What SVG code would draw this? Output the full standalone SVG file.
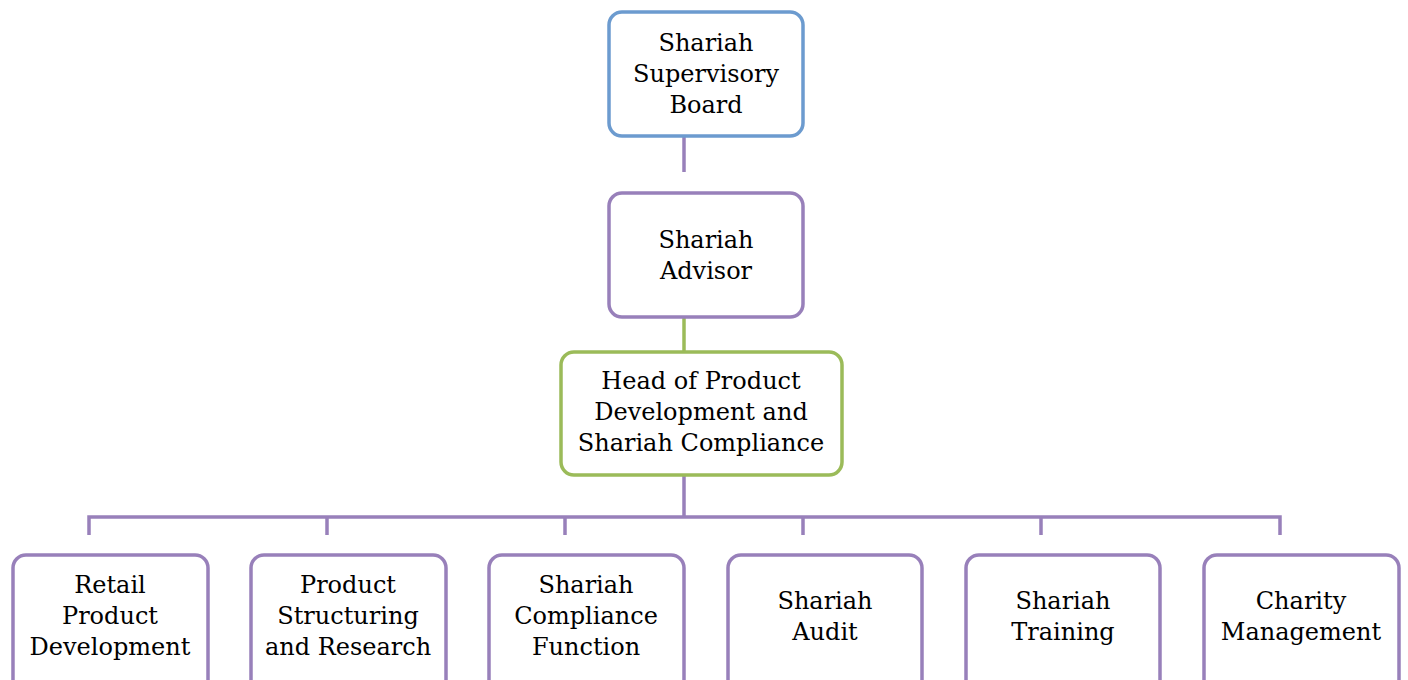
<svg xmlns="http://www.w3.org/2000/svg" width="1408" height="680" viewBox="0 0 1408 680">
<style>
.box{fill:#fff;stroke-width:3.5}
.blue{stroke:#6C9BCF}
.purple{stroke:#9880BA}
.green{stroke:#9BBB59}
.conn{fill:none;stroke-width:3.5}
text{font-family:"DejaVu Serif","Liberation Serif",serif;font-size:24px;fill:#000;text-anchor:middle}
</style>
<rect width="1408" height="680" fill="#fff"/>
<g id="connectors">
<line class="conn purple" x1="684" y1="136" x2="684" y2="172"/>
<line class="conn green" x1="684" y1="317" x2="684" y2="352"/>
<path class="conn purple" d="M684 475V517M89 535V517H1280V535M327 517V535M565 517V535M803 517V535M1041 517V535"/>
</g>
<g id="n-ssb">
<rect class="box blue" x="609" y="12" width="194" height="124" rx="13"/>
<text x="706" y="51">Shariah</text><text x="706" y="82">Supervisory</text><text x="706" y="113">Board</text>
</g>
<g id="n-advisor">
<rect class="box purple" x="609" y="193" width="194" height="124" rx="13"/>
<text x="706" y="248">Shariah</text><text x="706" y="279">Advisor</text>
</g>
<g id="n-head">
<rect class="box green" x="561" y="352" width="281" height="123" rx="13"/>
<text x="701" y="389">Head of Product</text><text x="701" y="420">Development and</text><text x="701" y="451">Shariah Compliance</text>
</g>
<g id="n-retail">
<rect class="box purple" x="13" y="555" width="195" height="140" rx="13"/>
<text x="110" y="593">Retail</text><text x="110" y="624">Product</text><text x="110" y="655">Development</text>
</g>
<g id="n-structuring">
<rect class="box purple" x="251" y="555" width="195" height="140" rx="13"/>
<text x="348" y="593">Product</text><text x="348" y="624">Structuring</text><text x="348" y="655">and Research</text>
</g>
<g id="n-compliance">
<rect class="box purple" x="489" y="555" width="195" height="140" rx="13"/>
<text x="586" y="593">Shariah</text><text x="586" y="624">Compliance</text><text x="586" y="655">Function</text>
</g>
<g id="n-audit">
<rect class="box purple" x="728" y="555" width="194" height="140" rx="13"/>
<text x="825" y="609">Shariah</text><text x="825" y="640">Audit</text>
</g>
<g id="n-training">
<rect class="box purple" x="966" y="555" width="194" height="140" rx="13"/>
<text x="1063" y="609">Shariah</text><text x="1063" y="640">Training</text>
</g>
<g id="n-charity">
<rect class="box purple" x="1204" y="555" width="195" height="140" rx="13"/>
<text x="1301" y="609">Charity</text><text x="1301" y="640">Management</text>
</g>
</svg>
